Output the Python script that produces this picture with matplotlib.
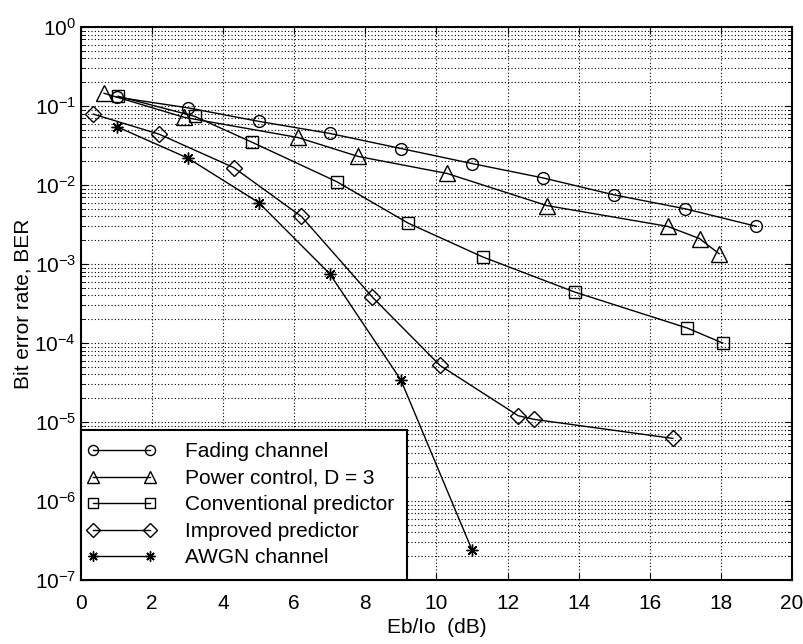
import matplotlib
matplotlib.use("Agg")
import matplotlib.pyplot as plt
import numpy as np
from matplotlib.lines import Line2D
from matplotlib.legend_handler import HandlerLine2D
from matplotlib.ticker import LogLocator, NullFormatter

plt.rcParams['font.family'] = ['Liberation Sans', 'DejaVu Sans']
plt.rcParams['mathtext.default'] = 'regular'
plt.rcParams['font.size'] = 15

# values
fading_x = [1, 3, 5, 7, 9, 11, 13, 15, 17, 19]
fading_ber = [0.13, 0.095, 0.064, 0.045, 0.029, 0.0187, 0.0123, 0.0075, 0.005, 0.003]

power_x = [0.65, 2.9, 6.1, 7.8, 10.3, 13.1, 16.5, 17.4, 17.95]
power_ber = [0.145, 0.072, 0.040, 0.023, 0.014, 0.0055, 0.003, 0.0021, 0.00135]

conv_x = [1.05, 3.2, 4.8, 7.2, 9.2, 11.3, 13.9, 17.05, 18.05]
conv_ber = [0.133, 0.074, 0.035, 0.011, 0.0033, 0.00123, 0.00044, 0.000155, 0.0001]

impr_x = [0.35, 2.2, 4.3, 6.2, 8.2, 10.1, 12.3, 12.75, 16.65]
impr_ber = [0.079, 0.044, 0.0166, 0.004, 0.00038, 5.2e-5, 1.2e-5, 1.08e-5, 6.2e-6]

awgn_x = [1, 3, 5, 7, 9, 11]
awgn_ber = [0.055, 0.022, 0.006, 0.00075, 3.4e-5, 2.4e-7]

x_ticks = list(range(0, 21, 2))

fig = plt.figure(figsize=(8.04, 6.44), dpi=100)
ax = fig.add_axes([0.1007, 0.0994, 0.8843, 0.8586])

style = dict(color='black', linewidth=1.0, markerfacecolor='none',
             markeredgecolor='black', markeredgewidth=1.0, markersize=8.5)

ax.semilogy(fading_x, fading_ber, marker='o', label='Fading channel', **style)
ax.semilogy(power_x, power_ber, marker='^', label='Power control, D = 3',
            **{**style, 'markersize': 11})
ax.semilogy(conv_x, conv_ber, marker='s', label='Conventional predictor',
            **{**style, 'markersize': 9})
ax.semilogy(impr_x, impr_ber, marker='D', label='Improved predictor',
            **{**style, 'markersize': 8})
ax.semilogy(awgn_x, awgn_ber, marker=(8, 2, 0), label='AWGN channel', **style)

ax.set_xlim(0, 20)
ax.set_ylim(1e-7, 1)
ax.set_xticks(x_ticks)
ax.yaxis.set_major_locator(LogLocator(base=10, numticks=10))
ax.yaxis.set_minor_locator(LogLocator(base=10, subs=np.arange(2, 10), numticks=100))
ax.yaxis.set_minor_formatter(NullFormatter())

dots = (0, (1, 2))
ax.grid(True, which='major', axis='both', color='black', linestyle=dots, linewidth=0.8)
ax.grid(True, which='minor', axis='y', color='black', linestyle=dots, linewidth=0.8)

ax.tick_params(which='both', direction='in', top=True, right=True, labelsize=15)
ax.tick_params(which='major', length=5)
ax.tick_params(which='minor', length=3)
ax.tick_params(axis='x', which='major', pad=10)
for s in ax.spines.values():
    s.set_linewidth(1.5)

ax.set_xlabel('Eb/Io  (dB)', fontsize=15, labelpad=4)
ax.set_ylabel('Bit error rate, BER', fontsize=15)
ax.yaxis.set_label_coords(-0.068, 0.5)

leg = ax.legend(loc='lower left', borderaxespad=0, numpoints=2, handlelength=2.7,
                handletextpad=1.7, labelspacing=0.36, borderpad=0.6,
                fancybox=False, framealpha=1, edgecolor='black', markerscale=0.85,
                fontsize=15,
                handler_map={Line2D: HandlerLine2D(numpoints=2, marker_pad=0.0)})
leg.get_frame().set_linewidth(1.5)

fig.savefig('out.png', dpi=100)
